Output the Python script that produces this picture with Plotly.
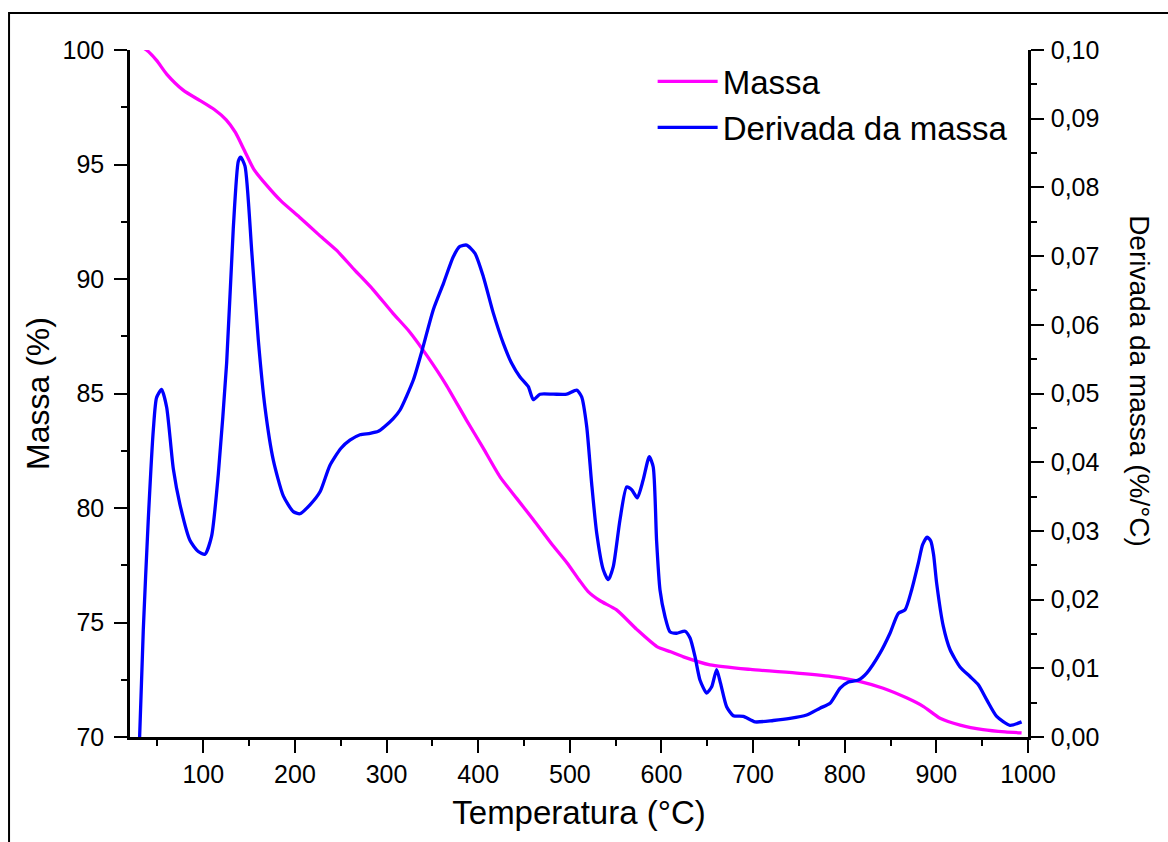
import plotly.graph_objects as go

# ---- data ----
mass_T = [30, 38, 49, 60, 78, 96, 112, 125, 135, 145, 155, 169, 185, 205, 225, 245, 265, 285,
          307, 325, 345, 365, 387, 405, 424, 442, 460, 480, 497, 510, 520, 533, 551, 573, 595,
          610, 624, 653, 697, 751, 788, 817, 842, 868, 886, 904, 926, 951, 975, 993]
mass = [100.2, 100.0, 99.55, 98.95, 98.25, 97.8, 97.4, 96.95, 96.4, 95.6, 94.8, 94.1, 93.4, 92.7,
        91.97, 91.27, 90.4, 89.55, 88.5, 87.7, 86.6, 85.38, 83.85, 82.65, 81.35, 80.42, 79.5, 78.44,
        77.6, 76.87, 76.35, 75.95, 75.55, 74.7, 73.95, 73.72, 73.5, 73.15, 72.95, 72.78, 72.63,
        72.42, 72.13, 71.7, 71.33, 70.82, 70.52, 70.32, 70.22, 70.18]

deriv_T = [30.5, 34.5, 40, 45.5, 49, 54.5, 60, 67.3, 74.6, 85.5, 94.5, 101.8, 109, 116.4, 125.5,
           132.7, 138.2, 140.8, 145.5, 152.8, 160, 167.3, 176.4, 187.3, 198.2, 205.5, 216.4, 227.4,
           238, 250, 260, 271, 282, 291, 298, 307, 314.7, 329.3, 338.4, 351, 362, 372.8, 380, 387.4,
           396.5, 405.6, 416.5, 427.4, 436.5, 445.6, 454.7, 460.1, 467.4, 482, 496.6, 507.5, 512.9,
           518.4, 523.8, 529.3, 536.6, 542, 547.4, 554.7, 562, 567.5, 573.6, 580, 586.7, 591, 594.7,
           598.4, 603.9, 609.3, 616.6, 625.7, 631.2, 636.6, 642, 649.3, 654.8, 660.2, 664.5, 671.1,
           678.4, 689.3, 702.1, 722, 740.3, 758.4, 773, 784, 795, 804, 815, 824, 838.5, 849.4, 858.5,
           865.8, 873, 880.3, 885, 890, 894, 897, 900.3, 907.6, 915, 925.8, 936.7, 945.8, 955, 965.8,
           980.4, 993]
deriv = [0.0, 0.0156, 0.0318, 0.0448, 0.0494, 0.0506, 0.048, 0.039, 0.0338, 0.0286, 0.027, 0.0266,
         0.0292, 0.0383, 0.0545, 0.074, 0.0838, 0.0844, 0.0831, 0.0708, 0.0578, 0.048, 0.0403, 0.0351,
         0.0328, 0.0325, 0.0338, 0.0357, 0.0395, 0.042, 0.0432, 0.044, 0.0442, 0.0445, 0.0452, 0.0463,
         0.0476, 0.052, 0.0561, 0.0622, 0.066, 0.0699, 0.0714, 0.0716, 0.0704, 0.067, 0.0617, 0.0573,
         0.0544, 0.0524, 0.051, 0.0491, 0.0499, 0.0499, 0.0499, 0.0505, 0.0495, 0.0452, 0.0369, 0.0297,
         0.0243, 0.0229, 0.0248, 0.0316, 0.0364, 0.036, 0.0348, 0.0374, 0.0408, 0.0393, 0.0285, 0.0214,
         0.0175, 0.0153, 0.0151, 0.0154, 0.0144, 0.0117, 0.0083, 0.0064, 0.0073, 0.0098, 0.0078, 0.0044,
         0.0031, 0.003, 0.0022, 0.0024, 0.0027, 0.0032, 0.0042, 0.0049, 0.0071, 0.008, 0.0083, 0.0093,
         0.0122, 0.0151, 0.018, 0.0185, 0.0214, 0.0253, 0.028, 0.0291, 0.0285, 0.0265, 0.0224, 0.0161,
         0.0127, 0.0102, 0.0088, 0.0076, 0.0054, 0.003, 0.0017, 0.0022]

assert len(mass_T) == len(mass)
assert len(deriv_T) == len(deriv)

FONT = "Arial, Liberation Sans, sans-serif"

fig = go.Figure()
fig.add_trace(go.Scatter(x=mass_T, y=mass, name="Massa", mode="lines",
                         line=dict(color="#FF00FF", width=3.3, shape="spline", smoothing=0.6),
                         xaxis="x", yaxis="y"))
fig.add_trace(go.Scatter(x=deriv_T, y=deriv, name="Derivada da massa", mode="lines",
                         line=dict(color="#0000FF", width=3.3, shape="spline", smoothing=0.6),
                         xaxis="x", yaxis="y2"))

axis_common = dict(showline=True, linecolor="black", linewidth=2.5, ticks="outside",
                   tickcolor="black", tickwidth=2, ticklen=13, showgrid=False, zeroline=False,
                   automargin=False, tickfont=dict(family=FONT, size=25, color="black"))

fig.update_layout(
    width=1168, height=842,
    template="none",
    paper_bgcolor="white", plot_bgcolor="white",
    separators=",.",
    margin=dict(l=130, r=140, t=50, b=105),
    font=dict(family=FONT, color="black"),
    xaxis=dict(range=[20, 1000], tick0=0, dtick=100,
               minor=dict(dtick=50, ticks="outside", ticklen=6, tickwidth=2, tickcolor="black"),
               title=dict(text="Temperatura (°C)", font=dict(family=FONT, size=33), standoff=15),
               **axis_common),
    xaxis2=dict(range=[20, 1000], overlaying="x", side="top", anchor="y", tick0=0, dtick=50,
                showline=True, linecolor="black", linewidth=2.5, ticks="inside", ticklen=3,
                tickwidth=1.5, tickcolor="black", showticklabels=False, showgrid=False,
                zeroline=False, automargin=False),
    yaxis=dict(range=[70, 100], tick0=70, dtick=5, ticklabelstandoff=5,
               minor=dict(dtick=2.5, ticks="outside", ticklen=6, tickwidth=2, tickcolor="black"),
               title=dict(text="Massa (%)", font=dict(family=FONT, size=32), standoff=4),
               **axis_common),
    yaxis2=dict(range=[0, 0.1], overlaying="y", side="right", anchor="x", tick0=0, dtick=0.01,
                tickformat=".2f", ticklabelstandoff=2,
                minor=dict(dtick=0.005, ticks="outside", ticklen=6, tickwidth=2, tickcolor="black"),
                **axis_common),
    legend=dict(x=0.582, y=0.995, xanchor="left", yanchor="top", bgcolor="rgba(0,0,0,0)",
                font=dict(family=FONT, size=33, color="black"), itemwidth=60),
    annotations=[dict(text="Derivada da massa (%/°C)", xref="paper", yref="paper",
                      x=1.1247, y=0.518, xanchor="center", yanchor="middle",
                      showarrow=False, textangle=90,
                      font=dict(family=FONT, size=28, color="black"))],
    shapes=[dict(type="rect", xref="paper", yref="paper", x0=-0.1347, x1=1.3, y0=-0.3, y1=1.054,
                 line=dict(color="black", width=2), layer="below")],
)

fig.write_html("out.html")
